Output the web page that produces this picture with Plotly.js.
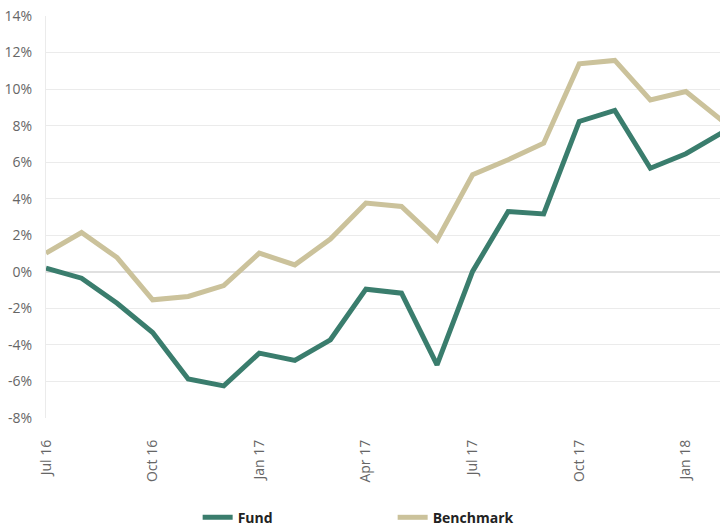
<!DOCTYPE html>
<html>
<head>
<meta charset="utf-8">
<script src="https://cdn.plot.ly/plotly-3.0.1.min.js"></script>
<style>html,body{margin:0;padding:0;background:#fff;}#chart{width:720px;height:527px;}</style>
</head>
<body>
<div id="chart"></div>
<script>
const months = ["Jul 16","Aug 16","Sep 16","Oct 16","Nov 16","Dec 16","Jan 17","Feb 17","Mar 17","Apr 17","May 17","Jun 17","Jul 17","Aug 17","Sep 17","Oct 17","Nov 17","Dec 17","Jan 18","Feb 18"];
const fund = [0.2,-0.35,-1.72,-3.32,-5.87,-6.24,-4.45,-4.85,-3.72,-0.95,-1.17,-5.09,0.02,3.3,3.17,8.23,8.83,5.67,6.46,7.6];
const benchmark = [1.02,2.15,0.78,-1.53,-1.35,-0.75,1.02,0.38,1.79,3.76,3.58,1.75,5.31,6.13,7.04,11.38,11.57,9.41,9.87,8.3];
const xTickLabels = ["Jul 16","Oct 16","Jan 17","Apr 17","Jul 17","Oct 17","Jan 18"];
const yTickVals = [-8,-6,-4,-2,0,2,4,6,8,10,12,14];
const yTickText = ["-8%","-6%","-4%","-2%","0%","2%","4%","6%","8%","10%","12%","14%"];

const font = "'Open Sans', sans-serif";
const traces = [
  {x: months, y: benchmark, name: "Benchmark", type: "scatter", mode: "lines",
   line: {color: "#cbc29b", width: 5}},
  {x: months, y: fund, name: "Fund", type: "scatter", mode: "lines",
   line: {color: "#3a7d6d", width: 5}}
];
const layout = {
  width: 720, height: 527,
  margin: {l: 46, r: 0, t: 16, b: 109, autoexpand: false},
  paper_bgcolor: "#fff", plot_bgcolor: "#fff",
  showlegend: true,
  legend: {orientation: "h", x: 0.225, xanchor: "left", y: -0.248, yanchor: "middle",
           traceorder: "reversed",
           entrywidth: 150, entrywidthmode: "pixels",
           font: {family: font, size: 14, color: "#222", weight: "bold"}},
  xaxis: {type: "category", range: [0, 18.96], tickvals: xTickLabels, ticktext: xTickLabels,
          tickangle: -90, showgrid: false, zeroline: false, showline: false, ticks: "",
          ticklabelstandoff: 18, automargin: false,
          tickfont: {family: font, size: 14, color: "#666"}},
  yaxis: {range: [-8, 14], tickvals: yTickVals, ticktext: yTickText,
          showgrid: true, gridcolor: "#ebebeb", gridwidth: 1,
          zeroline: true, zerolinecolor: "#e0e0e0", zerolinewidth: 2,
          showline: true, linecolor: "#ebebeb", linewidth: 1,
          ticks: "", ticklabelstandoff: 10, automargin: false,
          tickfont: {family: font, size: 14, color: "#666"}}
};
Plotly.newPlot("chart", traces, layout, {displayModeBar: false, staticPlot: true});
</script>
</body>
</html>
